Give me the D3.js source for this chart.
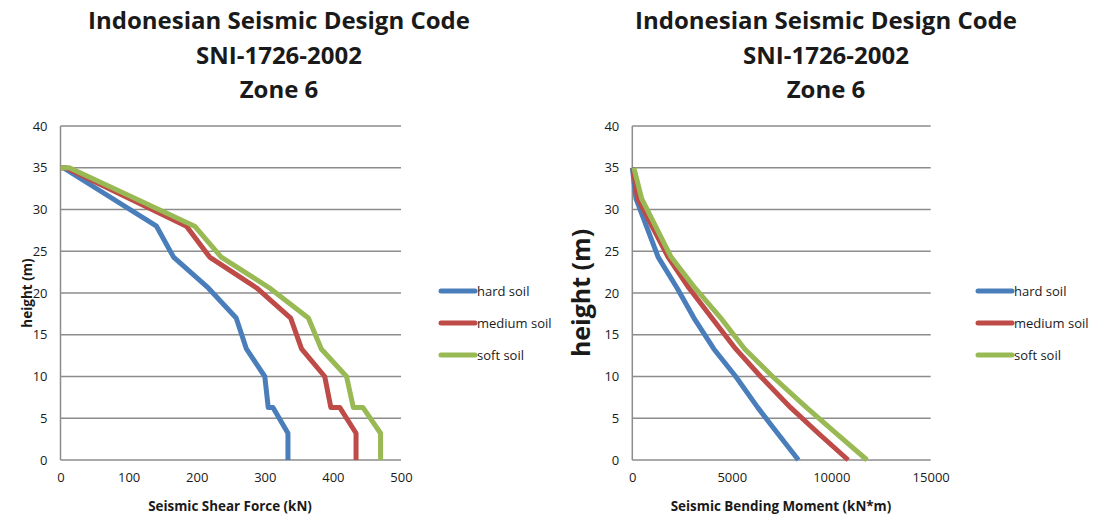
<!DOCTYPE html>
<html>
<head>
<meta charset="utf-8">
<script src="https://cdn.jsdelivr.net/npm/d3@7"></script>
<style>
  html, body { margin: 0; padding: 0; background: #fff; }
  svg text { font-family: "Open Sans", Lato, "Liberation Sans", sans-serif; fill: #1a1a1a; }
</style>
</head>
<body>
<svg id="chart" width="1100" height="517"></svg>
<script>
// Storey heights (m) at which the shear force is reported
const shearHeights = [35, 35, 28, 24.3, 20.6, 17, 13.3, 10, 6.3, 6.3, 3.2, 0];
// Seismic shear force (kN) per soil class
const shearHard   = [0, 4, 141, 166, 217, 258, 273, 300, 305, 312, 334, 334];
const shearMedium = [0, 8, 185, 219, 288, 338, 354, 388, 397, 410, 434, 434];
const shearSoft   = [0, 13, 197, 236, 307, 364, 383, 420, 430, 444, 470, 470];

// Heights (m) at which the bending moment is reported
const momentHeights = [35, 31.3, 24.3, 20.6, 17, 13.3, 10, 6.3, 3.2, 0];
// Seismic bending moment (kN*m) per soil class
const momentHard   = [0, 185, 1300, 2250, 3100, 4100, 5200, 6300, 7300, 8350];
const momentMedium = [30, 270, 1800, 2850, 4000, 5200, 6450, 7950, 9350, 10850];
const momentSoft   = [80, 470, 1950, 3150, 4450, 5650, 7050, 8750, 10250, 11800];

const seriesNames  = ["hard soil", "medium soil", "soft soil"];
const seriesColors = ["#4a7ebb", "#be4b48", "#98b954"];

const heightTicks = [0, 5, 10, 15, 20, 25, 30, 35, 40];
const shearTicks  = [0, 100, 200, 300, 400, 500];
const momentTicks = [0, 5000, 10000, 15000];

const titleLines = ["Indonesian Seismic Design Code", "SNI-1726-2002", "Zone 6"];

const svg = d3.select("#chart");

function panel(opts) {
  const g = svg.append("g");
  const x = d3.scaleLinear().domain(opts.xDomain).range([opts.left, opts.right]);
  const y = d3.scaleLinear().domain([0, 40]).range([460, 126]);

  // horizontal gridlines
  g.append("g").selectAll("line").data(heightTicks).join("line")
    .attr("x1", opts.left).attr("x2", opts.right)
    .attr("y1", d => y(d)).attr("y2", d => y(d))
    .attr("stroke", "#8c8c8c").attr("stroke-width", 1.5);

  // vertical axis line
  g.append("line")
    .attr("x1", opts.left).attr("x2", opts.left)
    .attr("y1", y(40)).attr("y2", y(0))
    .attr("stroke", "#8c8c8c").attr("stroke-width", 1.5);

  // y axis labels
  const yAxis = d3.axisLeft(y).tickValues(heightTicks).tickSize(0).tickPadding(0);
  const ya = g.append("g").attr("transform", `translate(${opts.left - 13},0)`).call(yAxis);
  ya.select(".domain").remove();
  ya.selectAll("text").attr("font-size", 13).attr("fill", "#1a1a1a")
    .style("font-family", "'Open Sans', sans-serif");

  // x axis labels
  const xAxis = d3.axisBottom(x).tickValues(opts.xTicks).tickSize(0).tickPadding(0)
    .tickFormat(d3.format("d"));
  const xa = g.append("g").attr("transform", `translate(0,${y(0) + 13})`).call(xAxis);
  xa.select(".domain").remove();
  xa.selectAll("text").attr("font-size", 13).attr("fill", "#1a1a1a")
    .style("font-family", "'Open Sans', sans-serif");

  // series lines
  const line = d3.line().x(d => x(d[0])).y(d => y(d[1]));
  opts.series.forEach((vals, i) => {
    g.append("path")
      .datum(vals.map((v, k) => [v, opts.heights[k]]))
      .attr("d", line)
      .attr("fill", "none")
      .attr("stroke", seriesColors[i])
      .attr("stroke-width", 5)
      .attr("stroke-linejoin", "round");
  });

  // title
  titleLines.forEach((t, i) => {
    g.append("text").attr("x", opts.titleX).attr("y", 29 + i * 34.5)
      .attr("text-anchor", "middle").attr("font-size", 24).attr("font-weight", 700)
      .text(t);
  });

  // x axis title
  g.append("text").attr("x", opts.xTitleX).attr("y", 511)
    .attr("text-anchor", "middle").attr("font-size", 13.4).attr("font-weight", 700)
    .text(opts.xTitle);

  // y axis title
  g.append("text")
    .attr("transform", `translate(${opts.yTitleX},${opts.yTitleY}) rotate(-90)`)
    .attr("text-anchor", "middle").attr("font-size", opts.yTitleSize).attr("font-weight", 700)
    .text("height (m)");

  // legend
  seriesNames.forEach((name, i) => {
    const ly = 291 + i * 32;
    g.append("line").attr("x1", opts.legendX).attr("x2", opts.legendX + 34)
      .attr("y1", ly).attr("y2", ly)
      .attr("stroke", seriesColors[i]).attr("stroke-width", 5).attr("stroke-linecap", "round");
    g.append("text").attr("x", opts.legendX + 36).attr("y", ly + 5)
      .attr("font-size", 13).text(name);
  });
}

panel({
  left: 60.5, right: 401, xDomain: [0, 500], xTicks: shearTicks,
  heights: shearHeights, series: [shearHard, shearMedium, shearSoft],
  titleX: 279, xTitleX: 230, xTitle: "Seismic Shear Force (kN)",
  yTitleX: 32, yTitleY: 293, yTitleSize: 13.5, legendX: 441
});

panel({
  left: 632.3, right: 930.7, xDomain: [0, 15000], xTicks: momentTicks,
  heights: momentHeights, series: [momentHard, momentMedium, momentSoft],
  titleX: 826, xTitleX: 781, xTitle: "Seismic Bending Moment (kN*m)",
  yTitleX: 590, yTitleY: 293, yTitleSize: 25, legendX: 978
});
</script>
</body>
</html>
